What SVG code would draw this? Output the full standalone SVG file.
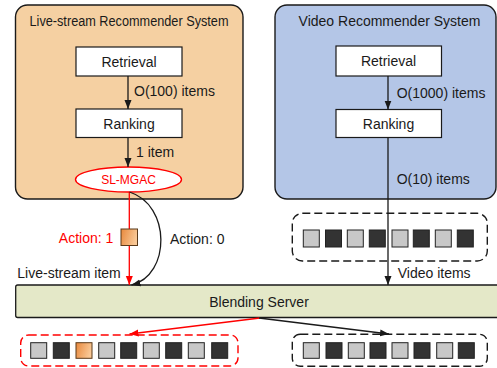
<svg xmlns="http://www.w3.org/2000/svg" width="497" height="368" viewBox="0 0 497 368">
<style>
text{font-family:"Liberation Sans",Arial,sans-serif;font-size:14px;fill:#1a1a1a}
.mid{text-anchor:middle;dominant-baseline:central}
.box{fill:#fff;stroke:#1a1a1a;stroke-width:1.2}
.ln{fill:none;stroke:#1a1a1a;stroke-width:1.3}
.red{fill:none;stroke:#ff0000;stroke-width:1.3}
.lt{fill:#c8c8c8;stroke:#222;stroke-width:1}
.dk{fill:#333;stroke:#222;stroke-width:1}
.or{fill:url(#og);stroke:#5a3a1a;stroke-width:1}
.dash{fill:none;stroke-width:1.4;stroke-dasharray:8 4}
</style>
<defs>
<linearGradient id="og" x1="0" y1="0" x2="1" y2="0.3">
<stop offset="0" stop-color="#e8883c"/>
<stop offset="1" stop-color="#f9c896"/>
</linearGradient>
<marker id="ab" markerUnits="userSpaceOnUse" markerWidth="10" markerHeight="8" refX="9" refY="4" orient="auto">
<path d="M0,0.5 L9,4 L0,7.5 Z" fill="#1a1a1a"/>
</marker>
<marker id="ar" markerUnits="userSpaceOnUse" markerWidth="10" markerHeight="8" refX="9" refY="4" orient="auto">
<path d="M0,0.5 L9,4 L0,7.5 Z" fill="#ff0000"/>
</marker>
</defs>

<g id="live-panel">
<rect x="15.5" y="5" width="227.5" height="194" rx="12" fill="#f5d0a2" stroke="#1a1a1a" stroke-width="1.4"/>
<text x="129" y="20.5" class="mid" textLength="199" lengthAdjust="spacingAndGlyphs">Live-stream Recommender System</text>
</g>
<g id="video-panel">
<rect x="275" y="5" width="221" height="194" rx="12" fill="#b4c6e7" stroke="#1a1a1a" stroke-width="1.4"/>
<text x="389.5" y="20.5" class="mid">Video Recommender System</text>
</g>

<g id="live-retrieval"><rect class="box" x="76" y="47" width="106" height="29"/><text x="129" y="61.5" class="mid">Retrieval</text></g>
<g id="live-ranking"><rect class="box" x="76" y="109" width="106" height="28.5"/><text x="129" y="123.5" class="mid">Ranking</text></g>
<g id="sl-mgac"><ellipse cx="128.5" cy="179.5" rx="53" ry="12.5" fill="#fff" stroke="#ff0000" stroke-width="1.4"/><text x="128.5" y="179.5" class="mid" style="fill:#ff0000;font-size:12px">SL-MGAC</text></g>

<g id="video-retrieval"><rect class="box" x="336" y="46" width="105.5" height="30"/><text x="388.5" y="61" class="mid">Retrieval</text></g>
<g id="video-ranking"><rect class="box" x="336" y="109.5" width="105.5" height="28"/><text x="388.5" y="123.5" class="mid">Ranking</text></g>

<g id="blending-server"><rect x="15.7" y="285" width="486" height="32.5" rx="2" fill="#e4e8c8" stroke="#1a1a1a" stroke-width="1.3"/><text x="259" y="301.5" class="mid">Blending Server</text></g>

<g id="video-candidates">
<rect class="dash" stroke="#1a1a1a" x="292.3" y="213.3" width="195" height="47.7" rx="10"/>
<rect class="lt" x="303.3" y="230" width="16" height="17"/>
<rect class="dk" x="325.5" y="230" width="16" height="17"/>
<rect class="lt" x="347.3" y="230" width="16" height="17"/>
<rect class="dk" x="369.3" y="230" width="16" height="17"/>
<rect class="lt" x="392" y="230" width="16" height="17"/>
<rect class="dk" x="413.3" y="230" width="16" height="17"/>
<rect class="lt" x="435.3" y="230" width="16" height="17"/>
<rect class="dk" x="457.3" y="230" width="16" height="17"/>
</g>

<g id="mixed-output">
<rect class="dash" stroke="#ff0000" x="20.7" y="335" width="217.3" height="31" rx="8"/>
<rect class="lt" x="30.7" y="342.7" width="16" height="15.6"/>
<rect class="dk" x="53.3" y="342.7" width="16" height="15.6"/>
<rect class="or" x="76" y="342.7" width="16" height="15.6"/>
<rect class="lt" x="98.7" y="342.7" width="16" height="15.6"/>
<rect class="dk" x="120.7" y="342.7" width="16" height="15.6"/>
<rect class="lt" x="143.3" y="342.7" width="16" height="15.6"/>
<rect class="dk" x="165.7" y="342.7" width="16" height="15.6"/>
<rect class="lt" x="188.3" y="342.7" width="16" height="15.6"/>
<rect class="dk" x="211.7" y="342.7" width="16" height="15.6"/>
</g>

<g id="video-output">
<rect class="dash" stroke="#1a1a1a" x="292.3" y="334.3" width="195" height="32" rx="8"/>
<rect class="lt" x="303.3" y="342.7" width="16" height="15.6"/>
<rect class="dk" x="326" y="342.7" width="16" height="15.6"/>
<rect class="lt" x="348.3" y="342.7" width="16" height="15.6"/>
<rect class="dk" x="370" y="342.7" width="16" height="15.6"/>
<rect class="lt" x="392" y="342.7" width="16" height="15.6"/>
<rect class="dk" x="414" y="342.7" width="16" height="15.6"/>
<rect class="lt" x="436.7" y="342.7" width="16" height="15.6"/>
<rect class="dk" x="458.3" y="342.7" width="16" height="15.6"/>
</g>

<g id="connectors">
<line class="ln" x1="128" y1="76" x2="128" y2="109" marker-end="url(#ab)"/>
<text x="134" y="90.5" style="dominant-baseline:central">O(100) items</text>
<line class="ln" x1="128" y1="137.5" x2="128" y2="167" marker-end="url(#ab)"/>
<text x="136" y="151.5" style="dominant-baseline:central">1 item</text>
<line class="red" x1="129.3" y1="192" x2="129.3" y2="285" marker-end="url(#ar)"/>
<path class="ln" d="M129.5,192 C171,205 171,275 131.5,285" marker-end="url(#ab)"/>
<line class="ln" x1="388" y1="76" x2="388" y2="109.5" marker-end="url(#ab)"/>
<text x="396.7" y="93" style="dominant-baseline:central">O(1000) items</text>
<line class="ln" x1="388" y1="137.5" x2="388" y2="285" marker-end="url(#ab)"/>
<text x="396.7" y="179" style="dominant-baseline:central">O(10) items</text>
<line class="red" x1="260" y1="318" x2="129.5" y2="334" marker-end="url(#ar)"/>
<line class="ln" x1="259" y1="318" x2="389" y2="334" marker-end="url(#ab)"/>
</g>

<g id="labels">
<text x="113.3" y="237.5" style="fill:#ff0000;dominant-baseline:central;text-anchor:end">Action: 1</text>
<rect class="or" x="121" y="229" width="16.5" height="16.5"/>
<text x="170" y="239" style="dominant-baseline:central">Action: 0</text>
<text x="17.3" y="272.5" style="dominant-baseline:central">Live-stream item</text>
<text x="397.7" y="272.5" style="dominant-baseline:central">Video items</text>
</g>
</svg>
